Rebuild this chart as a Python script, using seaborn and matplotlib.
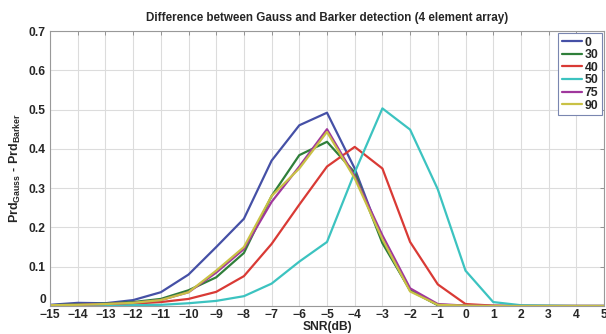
import pandas as pd
import matplotlib
matplotlib.use('Agg')
import matplotlib.pyplot as plt
import seaborn as sns
from matplotlib.ticker import MultipleLocator

# SNR axis (dB)
snr = list(range(-15, 6))

# series: angle -> difference in detection probability
angles = ['0', '30', '40', '50', '75', '90']
diff_0 = [0.003, 0.008, 0.007, 0.015, 0.035, 0.08, 0.15, 0.222, 0.37, 0.46, 0.492,
          0.35, 0.165, 0.04, 0.003, 0.001, 0, 0, 0, 0, 0]
diff_30 = [0.002, 0.004, 0.006, 0.01, 0.018, 0.04, 0.073, 0.135, 0.28, 0.384, 0.418,
           0.34, 0.16, 0.04, 0.002, 0.001, 0, 0, 0, 0, 0]
diff_40 = [0.001, 0.002, 0.004, 0.006, 0.01, 0.018, 0.036, 0.076, 0.158, 0.258, 0.355,
           0.405, 0.35, 0.163, 0.055, 0.005, 0.001, 0, 0, 0, 0]
diff_50 = [0, 0.001, 0.001, 0.002, 0.003, 0.007, 0.013, 0.025, 0.057, 0.113, 0.163,
           0.34, 0.503, 0.449, 0.297, 0.09, 0.01, 0.002, 0.001, 0, 0]
diff_75 = [0.002, 0.003, 0.005, 0.008, 0.015, 0.035, 0.085, 0.145, 0.265, 0.355, 0.45,
           0.33, 0.18, 0.045, 0.005, 0.001, 0, 0, 0, 0, 0]
diff_90 = [0.002, 0.003, 0.005, 0.008, 0.015, 0.035, 0.09, 0.15, 0.28, 0.35, 0.443,
           0.325, 0.17, 0.037, 0.003, 0.001, 0, 0, 0, 0, 0]

series = [diff_0, diff_30, diff_40, diff_50, diff_75, diff_90]
colors = ['#4550a6', '#2f7f3a', '#d93a35', '#3cc3c0', '#a0379c', '#c9c145']

# long format for seaborn
rows = []
for a, vals in zip(angles, series):
    for s, v in zip(snr, vals):
        rows.append({'snr': s, 'angle': a, 'value': v})
df = pd.DataFrame(rows)

sns.set_style('white')
plt.rcParams['font.family'] = ['Liberation Sans', 'DejaVu Sans']
plt.rcParams['font.weight'] = 'bold'
plt.rcParams['mathtext.fontset'] = 'custom'
plt.rcParams['mathtext.rm'] = 'Liberation Sans:bold'

fig = plt.figure(figsize=(6.06, 3.34), dpi=100)
ax = fig.add_axes([50 / 606, 28 / 334, 554 / 606, 275 / 334])

sns.lineplot(data=df, x='snr', y='value', hue='angle',
             palette=dict(zip(angles, colors)), linewidth=1.6, ax=ax)

ax.set_xlim(-15, 5)
ax.set_ylim(0, 0.7)
ax.xaxis.set_major_locator(MultipleLocator(1))
ax.set_yticks([0, 0.1, 0.2, 0.3, 0.4, 0.5, 0.6, 0.7])
ax.set_yticklabels(['0', '0.1', '0.2', '0.3', '0.4', '0.5', '0.6', '0.7'])

ax.grid(True, color='#dcdcdc', linewidth=0.8)
ax.tick_params(axis='both', direction='in', length=3, width=0.6, color='#888888',
               labelsize=8.7, top=True, right=True)
ax.tick_params(axis='x', pad=2)
ax.tick_params(axis='y', pad=3)
for lab in ax.get_xticklabels() + ax.get_yticklabels():
    lab.set_fontweight('bold')
# lift the "0" label a little like the original
ax.get_yticklabels()[0].set_verticalalignment('bottom')
for spine in ax.spines.values():
    spine.set_color('#999999')
    spine.set_linewidth(0.8)

ax.set_title('Difference between Gauss and Barker detection (4 element array)',
             fontsize=8.4, fontweight='bold', pad=7)
ax.set_xlabel('SNR(dB)', fontsize=8.7, fontweight='bold', labelpad=0)
ax.set_ylabel(r'Prd$_{\mathrm{Gauss}}$ - Prd$_{\mathrm{Barker}}$',
              fontsize=9, fontweight='bold', labelpad=4)

leg = ax.legend(loc='upper right', fontsize=8.8, handlelength=1.7, handletextpad=0.2,
                labelspacing=0.05, borderpad=0.3, borderaxespad=0.15,
                frameon=True, fancybox=False, edgecolor='#7a86b0', framealpha=1)
leg.get_frame().set_linewidth(0.8)
for t in leg.get_texts():
    t.set_fontweight('bold')

fig.savefig('out.png', dpi=100, facecolor='white')
